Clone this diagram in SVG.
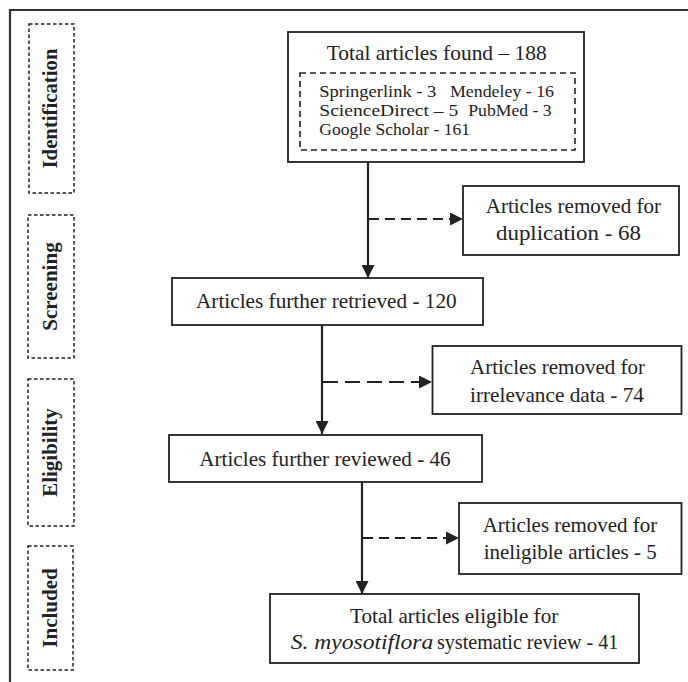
<svg xmlns="http://www.w3.org/2000/svg" width="688" height="682" viewBox="0 0 688 682">
<defs>
<style>
.box{fill:#fff;stroke:#222;stroke-width:1.8}
.dbox{fill:none;stroke:#222;stroke-width:1.6;stroke-dasharray:6 4}
.lbox{fill:none;stroke:#222;stroke-width:1.5;stroke-dasharray:3.5 2.5}
.t{font-family:"Liberation Serif","Times New Roman",serif;font-size:21px;fill:#222}
.s{font-family:"Liberation Serif","Times New Roman",serif;font-size:17px;fill:#222}
.lab{font-family:"Liberation Serif","Times New Roman",serif;font-size:21px;font-weight:bold;fill:#222;text-anchor:middle}
.solid{fill:none;stroke:#222;stroke-width:2.2}
.dash{fill:none;stroke:#222;stroke-width:2;stroke-dasharray:10 6}
.dash2{fill:none;stroke:#222;stroke-width:2;stroke-dasharray:15 7}
</style>
<marker id="ah" markerUnits="userSpaceOnUse" markerWidth="14" markerHeight="13" refX="13" refY="6.5" orient="auto">
<path d="M0,0 L13,6.5 L0,13 Z" fill="#222"/>
</marker>
</defs>
<rect width="688" height="682" fill="#fff"/>
<path d="M10,682 V10 H688" fill="none" stroke="#333" stroke-width="2.2"/>

<g id="label-identification">
<rect class="lbox" x="29" y="24" width="45" height="169"/>
<text class="lab" transform="translate(57,108.5) rotate(-90)" textLength="120" lengthAdjust="spacingAndGlyphs">Identification</text>
</g>
<g id="label-screening">
<rect class="lbox" x="28" y="215" width="46" height="143"/>
<text class="lab" transform="translate(57,286.5) rotate(-90)">Screening</text>
</g>
<g id="label-eligibility">
<rect class="lbox" x="28" y="379" width="46" height="147"/>
<text class="lab" transform="translate(57,452.5) rotate(-90)">Eligibility</text>
</g>
<g id="label-included">
<rect class="lbox" x="28" y="546" width="45" height="124"/>
<text class="lab" transform="translate(57,608) rotate(-90)">Included</text>
</g>

<g id="connectors">
<line class="solid" x1="368" y1="162" x2="368" y2="278" marker-end="url(#ah)"/>
<line class="dash" x1="369" y1="219" x2="463" y2="219" marker-end="url(#ah)"/>
<line class="solid" x1="322" y1="325" x2="322" y2="434" marker-end="url(#ah)"/>
<line class="dash2" x1="323" y1="382" x2="432" y2="382" marker-end="url(#ah)"/>
<line class="solid" x1="362" y1="482" x2="362" y2="594" marker-end="url(#ah)"/>
<line class="dash" x1="363" y1="538" x2="459" y2="538" marker-end="url(#ah)"/>
</g>

<g id="node-total">
<rect class="box" x="288" y="32" width="296" height="130"/>
<text class="t" x="326.7" y="60" textLength="220" lengthAdjust="spacingAndGlyphs">Total articles found – 188</text>
<rect class="dbox" x="300" y="73" width="275" height="77"/>
<text class="s" x="319.3" y="97" textLength="117" lengthAdjust="spacingAndGlyphs">Springerlink - 3</text>
<text class="s" x="450" y="97" textLength="104" lengthAdjust="spacingAndGlyphs">Mendeley - 16</text>
<text class="s" x="319.3" y="116" textLength="139" lengthAdjust="spacingAndGlyphs">ScienceDirect – 5</text>
<text class="s" x="468.3" y="116" textLength="83.4" lengthAdjust="spacingAndGlyphs">PubMed - 3</text>
<text class="s" x="319.3" y="135" textLength="150.7" lengthAdjust="spacingAndGlyphs">Google Scholar - 161</text>
</g>

<g id="node-duplication">
<rect class="box" x="463" y="186" width="216" height="69"/>
<text class="t" x="485.7" y="213" textLength="175.3" lengthAdjust="spacingAndGlyphs">Articles removed for</text>
<text class="t" x="496" y="240" textLength="145" lengthAdjust="spacingAndGlyphs">duplication - 68</text>
</g>

<g id="node-retrieved">
<rect class="box" x="172" y="278" width="311" height="47"/>
<text class="t" x="196" y="307.5" textLength="260.7" lengthAdjust="spacingAndGlyphs">Articles further retrieved - 120</text>
</g>

<g id="node-irrelevance">
<rect class="box" x="432.5" y="346" width="249" height="68"/>
<text class="t" x="470" y="374" textLength="175" lengthAdjust="spacingAndGlyphs">Articles removed for</text>
<text class="t" x="470" y="402" textLength="174" lengthAdjust="spacingAndGlyphs">irrelevance data - 74</text>
</g>

<g id="node-reviewed">
<rect class="box" x="169" y="435" width="313" height="47"/>
<text class="t" x="199.3" y="465.5" textLength="251.4" lengthAdjust="spacingAndGlyphs">Articles further reviewed - 46</text>
</g>

<g id="node-ineligible">
<rect class="box" x="459" y="503" width="222.5" height="71"/>
<text class="t" x="482.7" y="532" textLength="174.6" lengthAdjust="spacingAndGlyphs">Articles removed for</text>
<text class="t" x="483.7" y="559" textLength="173" lengthAdjust="spacingAndGlyphs">ineligible articles - 5</text>
</g>

<g id="node-final">
<rect class="box" x="270" y="594" width="369" height="69"/>
<text class="t" x="350" y="622.5" textLength="208.3" lengthAdjust="spacingAndGlyphs">Total articles eligible for</text>
<text class="t" x="290.7" y="648.5" font-style="italic" textLength="142.6" lengthAdjust="spacingAndGlyphs">S. myosotiflora</text>
<text class="t" x="437" y="648.5" textLength="181.3" lengthAdjust="spacingAndGlyphs">systematic review - 41</text>
</g>
</svg>
